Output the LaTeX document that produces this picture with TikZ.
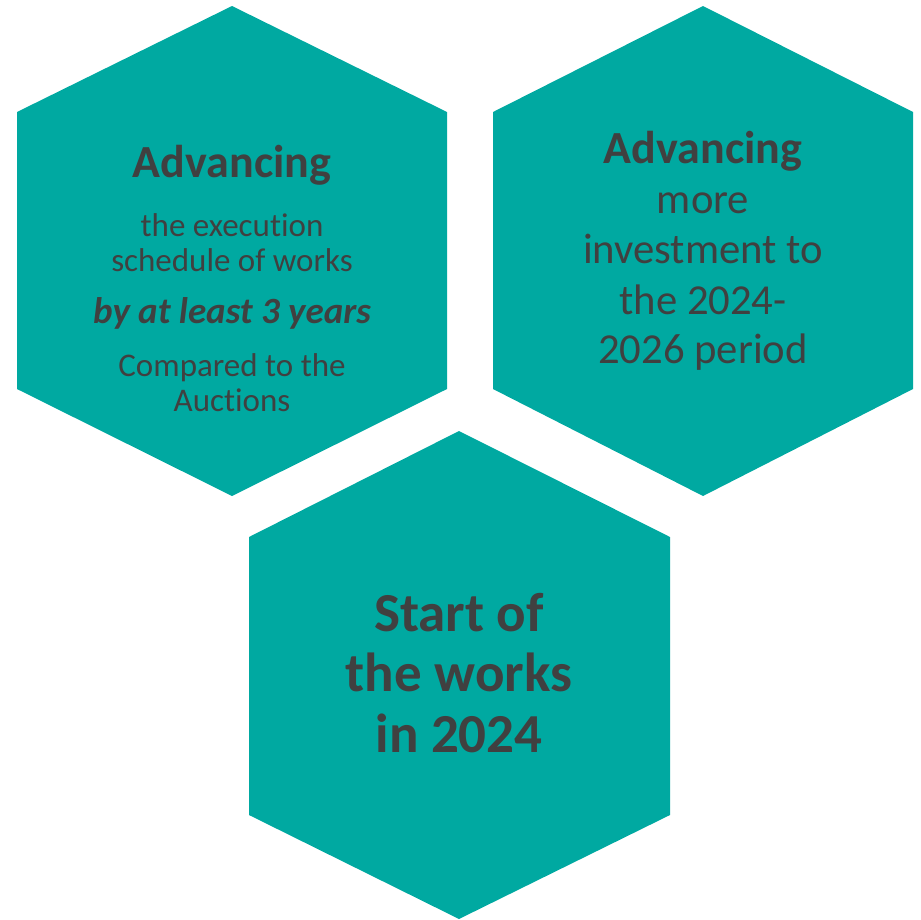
\documentclass[tikz,border=0pt]{standalone}
\usepackage{fontspec}
\setmainfont{Carlito}[Ligatures=NoCommon]
\definecolor{hexteal}{HTML}{00A9A1}
\definecolor{hextext}{HTML}{404040}
\begin{document}
\begin{tikzpicture}[x=1pt,y=-1pt,
  hexcell/.style={fill=hexteal,draw=none},
  line/.style={anchor=base,text=hextext,inner sep=0pt},
  headline/.style={line,font=\fontsize{46}{50}\selectfont\bfseries},
  smallline/.style={line,font=\fontsize{33}{35}\selectfont},
  keyline/.style={line,font=\fontsize{37}{40}\selectfont\bfseries\itshape},
  midline/.style={line,font=\fontsize{42.7}{50}\selectfont},
  bigline/.style={line,font=\fontsize{55}{60}\selectfont\bfseries}]
\useasboundingbox (0,0) rectangle (921,919);
% hexagons
\fill[hexcell] (232,6) -- (447,112) -- (447,389) -- (232,496) -- (17,389) -- (17,112) -- cycle;
\fill[hexcell] (703,6) -- (913,112) -- (913,389) -- (703,496) -- (493,389) -- (493,112) -- cycle;
\fill[hexcell] (459,431) -- (670,537) -- (670,815) -- (459,919) -- (249,815) -- (249,537) -- cycle;
% left hexagon
\node[headline] (leftHead) at (232,177) {Advancing};
\node[smallline] (leftA) at (232,236) {the execution};
\node[smallline] (leftB) at (232,271) {schedule of works};
\node[keyline] (leftKey) at (232,323) {by at least 3 years};
\node[smallline] (leftC) at (232,376) {Compared to the};
\node[smallline] (leftD) at (232,411) {Auctions};
% right hexagon
\node[headline] (rightHead) at (703,163) {Advancing};
\node[midline] (rightA) at (703,213) {more};
\node[midline] (rightB) at (703,263) {investment to};
\node[midline] (rightC) at (703,314) {the 2024-};
\node[midline] (rightD) at (703,363) {2026 period};
% bottom hexagon
\node[bigline] (lowA) at (459,631) {Start of};
\node[bigline] (lowB) at (459,691) {the works};
\node[bigline] (lowC) at (459,752) {in 2024};
\end{tikzpicture}
\end{document}
